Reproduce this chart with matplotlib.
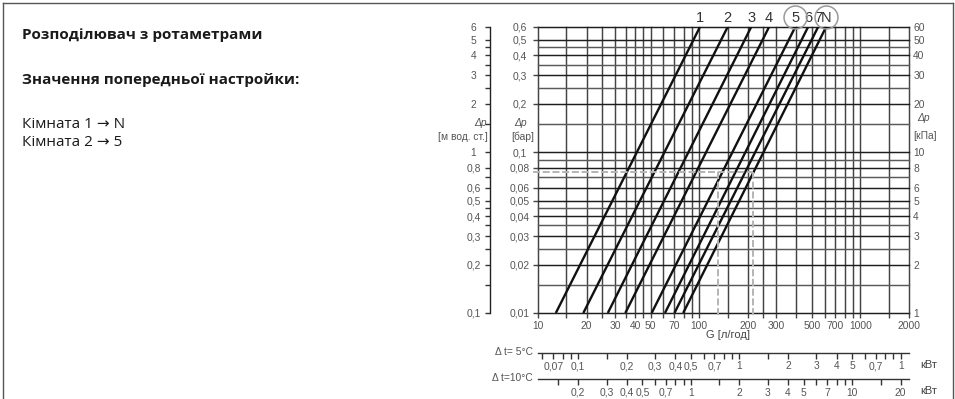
import matplotlib
matplotlib.use('Agg')
import matplotlib.pyplot as plt
from matplotlib.ticker import NullLocator
from matplotlib.lines import Line2D
from matplotlib.transforms import offset_copy

plt.rcParams['font.family'] = ['Liberation Sans', 'DejaVu Sans']

# ---------------- data ----------------
settings = ['1', '2', '3', '4', '5', '6', '7', 'N']
flow_at_low_dp = [12.9, 19.1, 27.1, 34.8, 50.7, 61.3, 70.2, 79.5]     # l/h at 0.01 bar
flow_at_high_dp = [101, 150, 210, 271, 394, 473, 546, 612]           # l/h at 0.6 bar
dp_low, dp_high = 0.01, 0.6
circled = ['5', 'N']

grid_flow = [10, 15, 20, 25, 30, 35, 40, 45, 50, 60, 70, 80, 90, 100, 150, 200, 250,
             300, 400, 500, 600, 700, 800, 900, 1000, 1500, 2000]
flow_labels = [10, 20, 30, 40, 50, 70, 100, 200, 300, 500, 700, 1000, 2000]
grid_dp = [0.01, 0.015, 0.02, 0.025, 0.03, 0.035, 0.04, 0.045, 0.05, 0.06, 0.07, 0.08,
           0.09, 0.1, 0.15, 0.2, 0.25, 0.3, 0.35, 0.4, 0.45, 0.5, 0.6]
bar_ticks = [0.01, 0.02, 0.03, 0.04, 0.05, 0.06, 0.08, 0.1, 0.2, 0.3, 0.4, 0.5, 0.6]
bar_labels = ['0,01', '0,02', '0,03', '0,04', '0,05', '0,06', '0,08', '0,1', '0,2', '0,3',
              '0,4', '0,5', '0,6']
mwc_ticks = [0.1, 0.15, 0.2, 0.25, 0.3, 0.35, 0.4, 0.45, 0.5, 0.6, 0.7, 0.8, 1, 1.5, 2,
             2.5, 3, 3.5, 4, 4.5, 5, 6]
mwc_labels = {0.1: '0,1', 0.2: '0,2', 0.3: '0,3', 0.4: '0,4', 0.5: '0,5', 0.6: '0,6',
              0.8: '0,8', 1: '1', 2: '2', 3: '3', 4: '4', 5: '5', 6: '6'}
kpa_ticks = [1, 2, 3, 4, 5, 6, 8, 10, 20, 30, 40, 50, 60]
kpa_labels = ['1', '2', '3', '4', '5', '6', '8', '10', '20', '30', '40', '50', '60']

set_dp = 0.075
set_flows = [130, 217]

kw_per_lph_5K = 0.00563
kw_per_lph_10K = 0.01126
kw5_ticks = [0.06, 0.07, 0.08, 0.09, 0.1, 0.15, 0.2, 0.3, 0.4, 0.5, 0.6, 0.7, 0.8, 0.9,
             1, 1.5, 2, 3, 4, 5, 6, 7, 8, 9, 10]
kw5_labels = {0.07: '0,07', 0.1: '0,1', 0.2: '0,2', 0.3: '0,3', 0.4: '0,4', 0.5: '0,5',
              0.7: '0,7', 1: '1', 2: '2', 3: '3', 4: '4', 5: '5', 7: '0,7', 10: '1'}
kw10_ticks = [0.15, 0.2, 0.3, 0.4, 0.5, 0.6, 0.7, 0.8, 0.9, 1, 1.5, 2, 3, 4, 5, 6, 7, 8,
              9, 10, 15, 20]
kw10_labels = {0.2: '0,2', 0.3: '0,3', 0.4: '0,4', 0.5: '0,5', 0.7: '0,7', 1: '1',
               2: '2', 3: '3', 4: '4', 5: '5', 7: '7', 10: '10', 20: '20'}

title = 'Розподілювач з ротаметрами'
subtitle = 'Значення попередньої настройки:'
rooms = ['Кімната 1 → N', 'Кімната 2 → 5']

# ---------------- layout ----------------
W, H = 955, 399
fig = plt.figure(figsize=(W / 100, H / 100), dpi=100)


def fx(px):
    return px / W


def fy(py):
    return 1 - py / H


AX_L, AX_R, AX_T, AX_B = 538, 909, 27, 313
ax = fig.add_axes([fx(AX_L), fy(AX_B), fx(AX_R) - fx(AX_L), fy(AX_T) - fy(AX_B)])
ax.set_xscale('log')
ax.set_yscale('log')
ax.set_xlim(10, 2000)
ax.set_ylim(dp_low, dp_high)
ax.set_facecolor('none')

LAB_C = '#555555'
TS = 7.4

major_dp = set(bar_ticks)
for g in grid_flow:
    ax.axvline(g, color='#444444', lw=1.05, zorder=1, clip_on=False)
for d in grid_dp:
    ax.axhline(d, color='#1e1e1e' if d in major_dp else '#5a5a5a', lw=1.05, zorder=1,
               clip_on=False)
for s in ax.spines.values():
    s.set_visible(False)

# characteristic lines
for lo, hi in zip(flow_at_low_dp, flow_at_high_dp):
    ax.plot([lo, hi], [dp_low, dp_high], color='#111111', lw=1.7, zorder=4,
            solid_capstyle='butt')

lab_tr = offset_copy(ax.transData, fig=fig, x=0, y=9, units='dots')
circ_tr = offset_copy(ax.transData, fig=fig, x=0, y=10, units='dots')
for s, hi in zip(settings, flow_at_high_dp):
    ax.text(hi, dp_high, s, transform=lab_tr, ha='center', va='center', fontsize=10.5,
            color='#333333', clip_on=False)
    if s in circled:
        ax.plot([hi], [dp_high], marker='o', ms=16.5, mfc='none', mec='#9a9a9a', mew=1.1,
                transform=circ_tr, clip_on=False, zorder=5)

# preset example (dashed)
dash_kw = dict(color='#b4b4b4', lw=1.4, ls=(0, (3.6, 1.4)), zorder=5, clip_on=False)
ax.plot([9.3, set_flows[-1]], [set_dp, set_dp], **dash_kw)
for f in set_flows:
    ax.plot([f, f], [set_dp, 0.0094], **dash_kw)

# bottom axis (flow)
ax.set_xticks(grid_flow, [str(g) if g in flow_labels else '' for g in grid_flow])
ax.xaxis.set_minor_locator(NullLocator())
ax.tick_params(axis='x', direction='out', length=3.5, width=1, color='#444444',
               labelsize=TS, labelcolor=LAB_C, pad=2.3)

# bar axis
ax.set_yticks(bar_ticks, bar_labels)
ax.yaxis.set_minor_locator(NullLocator())
ax.tick_params(axis='y', direction='out', length=3.3, width=1, color='#444444',
               labelsize=TS, labelcolor=LAB_C, pad=9.8)
for t in ax.get_yticklabels():
    t.set_horizontalalignment('center')

# m water column axis
axm = ax.secondary_yaxis((490 - AX_L) / (AX_R - AX_L),
                         functions=(lambda y: y * 10, lambda y: y / 10))
axm.set_yticks(mwc_ticks, [mwc_labels.get(v, '') for v in mwc_ticks])
axm.yaxis.set_minor_locator(NullLocator())
axm.spines['left'].set_color('#222222')
axm.spines['left'].set_linewidth(1.0)
axm.tick_params(axis='y', direction='out', length=3.5, width=1, color='#333333',
                labelsize=TS, labelcolor=LAB_C, pad=8.5)
for t in axm.get_yticklabels():
    t.set_horizontalalignment('center')

# kPa axis
axk = ax.secondary_yaxis('right', functions=(lambda y: y * 100, lambda y: y / 100))
axk.set_yticks(kpa_ticks, kpa_labels)
axk.yaxis.set_minor_locator(NullLocator())
axk.spines['right'].set_visible(False)
axk.tick_params(axis='y', length=0, labelsize=TS, labelcolor=LAB_C, pad=3)

# power scales
for loc_px, fac, ticks, labs, pad in [
        (353, kw_per_lph_5K, kw5_ticks, kw5_labels, 2.0),
        (379, kw_per_lph_10K, kw10_ticks, kw10_labels, 2.4)]:
    sx = ax.secondary_xaxis(-(loc_px - AX_B) / (AX_B - AX_T),
                            functions=(lambda g, f=fac: g * f, lambda p, f=fac: p / f))
    sx.set_xticks(ticks, [labs.get(v, '') for v in ticks])
    sx.xaxis.set_minor_locator(NullLocator())
    sx.spines['bottom'].set_color('#333333')
    sx.spines['bottom'].set_linewidth(1.0)
    sx.tick_params(axis='x', direction='out', length=4, width=1, color='#333333',
                   labelsize=TS, labelcolor=LAB_C, pad=pad)

# axis texts
small = dict(fontsize=TS, color=LAB_C)
fig.text(fx(487), fy(123), 'Δp', ha='right', va='center', style='italic', **small)
fig.text(fx(488), fy(137), '[м вод. ст.]', ha='right', va='center', **small)
fig.text(fx(521), fy(123), 'Δp', ha='center', va='center', style='italic', **small)
fig.text(fx(523), fy(137), '[бар]', ha='center', va='center', **small)
fig.text(fx(917), fy(118), 'Δp', ha='left', va='center', style='italic', **small)
fig.text(fx(913), fy(136), '[кПа]', ha='left', va='center', **small)
fig.text(fx(728), fy(335), 'G [л/год]', ha='center', va='center', fontsize=8,
         color='#444444')
fig.text(fx(533), fy(352), 'Δ t= 5°C', ha='right', va='center', **small)
fig.text(fx(533), fy(378), 'Δ t=10°C', ha='right', va='center', **small)
fig.text(fx(920), fy(365), 'кВт', ha='left', va='center', fontsize=8, color='#444444')
fig.text(fx(920), fy(391), 'кВт', ha='left', va='center', fontsize=8, color='#444444')

# left text block
blk = ['Open Sans', 'DejaVu Sans']
fig.text(fx(22), fy(35), title, ha='left', va='center', fontsize=11, fontweight='bold',
         family=blk, color='#1a1a1a')
fig.text(fx(22), fy(80), subtitle, ha='left', va='center', fontsize=11, fontweight='bold',
         family=blk, color='#1a1a1a')
for i, r in enumerate(rooms):
    fig.text(fx(22), fy(124 + 19 * i), r, ha='left', va='center', fontsize=11,
             family=blk, color='#1a1a1a')

# frame
fr = dict(color='#555555', lw=1.0, transform=fig.transFigure)
fig.add_artist(Line2D([fx(2.5), fx(953)], [fy(2.5), fy(2.5)], **fr))
fig.add_artist(Line2D([fx(2.5), fx(2.5)], [fy(2.5), fy(399)], **fr))
fig.add_artist(Line2D([fx(953), fx(953)], [fy(2.5), fy(399)], **fr))

fig.savefig('out.png', dpi=100)
